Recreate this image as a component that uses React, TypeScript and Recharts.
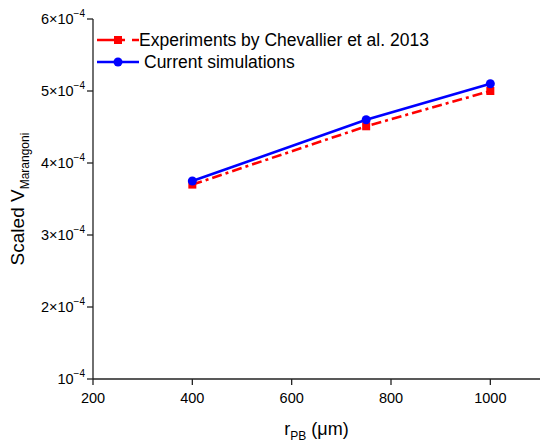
import { LineChart, Line, XAxis, YAxis, Legend, Label } from 'recharts'

const radii = [400, 750, 1000] // r_PB in μm
const experiment = [3.7e-4, 4.51e-4, 5.0e-4]
const simulation = [3.75e-4, 4.6e-4, 5.1e-4]
const xTicks = [200, 400, 600, 800, 1000]
const yTicks = [1e-4, 2e-4, 3e-4, 4e-4, 5e-4, 6e-4]
const seriesKeys = ['exp', 'sim']
const seriesNames = ['Experiments by Chevallier et al. 2013', 'Current simulations']

const data = radii.map((r, i) => ({ r, exp: experiment[i], sim: simulation[i] }))

const FONT = 'Arial, "Liberation Sans", Helvetica, sans-serif'
const AXIS = '#222'

const legendStyle: Record<string, { dash?: string; marker: 'square' | 'circle'; gap: number }> = {
  exp: { dash: '28 7 7', marker: 'square', gap: 0 },
  sim: { marker: 'circle', gap: 5 },
}

function YTick({ x, y, payload }: any) {
  const m = Math.round(payload.value / 1e-4)
  return (
    <text x={x} y={y} dy={5} textAnchor="end" fontSize={14.5} fontFamily={FONT} fill="#000">
      {m > 1 ? `${m}×10` : '10'}
      <tspan dy={-7} fontSize={10}>−4</tspan>
    </text>
  )
}

function SquareDot({ cx, cy }: any) {
  if (cx == null || cy == null) return null
  return <rect x={cx - 4} y={cy - 4} width={8} height={8} fill="#ff0000" />
}

function YLabel({ viewBox }: any) {
  const cx = viewBox.x + 24
  const cy = viewBox.y + viewBox.height / 2
  return (
    <text
      x={cx}
      y={cy}
      transform={`rotate(-90, ${cx}, ${cy})`}
      textAnchor="middle"
      fontSize={19}
      fontFamily={FONT}
      fill="#000"
    >
      Scaled V
      <tspan dy={5} fontSize={12}>Marangoni</tspan>
    </text>
  )
}

function XLabel({ viewBox }: any) {
  const cx = viewBox.x + viewBox.width / 2
  const y = viewBox.y + 56
  return (
    <text x={cx} y={y} textAnchor="middle" fontSize={18} fontFamily={FONT} fill="#000">
      r<tspan dy={5} fontSize={12}>PB</tspan>
      <tspan dy={-5}> (μm)</tspan>
    </text>
  )
}

function renderLegend({ payload }: any) {
  const items = [...(payload || [])].sort(
    (a: any, b: any) => seriesKeys.indexOf(a.dataKey) - seriesKeys.indexOf(b.dataKey)
  )
  return (
    <div style={{ fontFamily: FONT, fontSize: 17.5, color: '#000' }}>
      {items.map((entry: any) => {
        const s = legendStyle[entry.dataKey]
        return (
          <div key={entry.dataKey} style={{ display: 'flex', alignItems: 'center', height: 22, whiteSpace: 'nowrap' }}>
            <svg width={42} height={22} style={{ marginRight: s.gap }}>
              <line x1={0} x2={42} y1={11} y2={11} stroke={entry.color} strokeWidth={2.6} strokeDasharray={s.dash} />
              {s.marker === 'square' ? (
                <rect x={17} y={7} width={8} height={8} fill={entry.color} />
              ) : (
                <circle cx={21} cy={11} r={4.5} fill={entry.color} />
              )}
            </svg>
            <span>{entry.value}</span>
          </div>
        )
      })}
    </div>
  )
}

export default function App() {
  return (
    <div style={{ position: 'absolute', left: 0, top: 0, background: '#fff' }}>
      <LineChart width={550} height={445} data={data} margin={{ top: 19, right: 10, bottom: 0, left: 0 }}>
        <XAxis
          dataKey="r"
          type="number"
          domain={[200, 1100]}
          ticks={xTicks}
          height={66}
          tickSize={6}
          tickMargin={8}
          stroke={AXIS}
          strokeWidth={1.3}
          tick={{ fill: '#000', fontSize: 14.5, fontFamily: FONT }}
          allowDataOverflow
        >
          <Label content={XLabel} />
        </XAxis>
        <YAxis
          type="number"
          domain={[1e-4, 6e-4]}
          ticks={yTicks}
          width={93}
          tickSize={6}
          stroke={AXIS}
          strokeWidth={1.3}
          tick={<YTick />}
          allowDataOverflow
        >
          <Label content={YLabel} />
        </YAxis>
        <Legend
          layout="vertical"
          align="center"
          verticalAlign="middle"
          content={renderLegend}
          wrapperStyle={{ left: 97, top: 29, width: 420, height: 44 }}
        />
        <Line
          dataKey="exp"
          name={seriesNames[0]}
          stroke="#ff0000"
          strokeWidth={2.6}
          strokeDasharray="10 4 3 4"
          dot={<SquareDot />}
          activeDot={false}
          isAnimationActive={false}
        />
        <Line
          dataKey="sim"
          name={seriesNames[1]}
          stroke="#0000ff"
          strokeWidth={2.6}
          dot={{ r: 4.5, fill: '#0000ff', stroke: 'none' }}
          activeDot={false}
          isAnimationActive={false}
        />
      </LineChart>
    </div>
  )
}
